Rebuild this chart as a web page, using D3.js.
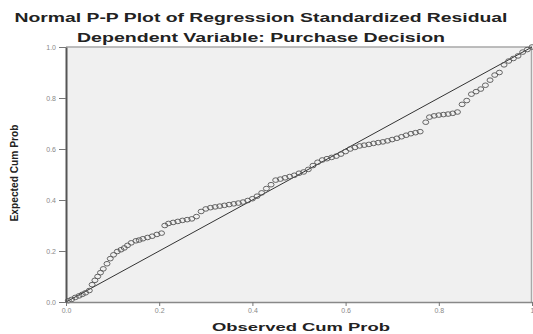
<!DOCTYPE html>
<html>
<head>
<meta charset="utf-8">
<script src="https://cdn.jsdelivr.net/npm/d3@7"></script>
<style>
  body { margin: 0; background: #fff; }
  svg { display: block; }
</style>
</head>
<body>
<div id="chart"></div>
<script>
// Observed cumulative probability (x) and expected cumulative probability (y)
const observed = [
  0.005, 0.012, 0.020, 0.028, 0.035, 0.042, 0.050, 0.056, 0.062, 0.068,
  0.074, 0.080, 0.088, 0.095, 0.102, 0.110, 0.118, 0.125, 0.132, 0.140,
  0.150, 0.157, 0.165, 0.175, 0.185, 0.195, 0.205, 0.212, 0.220, 0.230,
  0.240, 0.250, 0.260, 0.270, 0.280, 0.290, 0.300, 0.310, 0.320, 0.330,
  0.340, 0.350, 0.360, 0.370, 0.380, 0.390, 0.400, 0.410, 0.420, 0.430,
  0.440, 0.450, 0.460, 0.470, 0.480, 0.490, 0.500, 0.510, 0.520, 0.530,
  0.540, 0.550, 0.560, 0.570, 0.580, 0.590, 0.600, 0.610, 0.620, 0.630,
  0.640, 0.650, 0.660, 0.670, 0.680, 0.690, 0.700, 0.710, 0.720, 0.730,
  0.740, 0.750, 0.760, 0.772, 0.780, 0.790, 0.800, 0.810, 0.820, 0.830,
  0.840, 0.850, 0.860, 0.870, 0.880, 0.890, 0.900, 0.910, 0.920, 0.930,
  0.940, 0.950, 0.960, 0.970, 0.980, 0.990, 1.000
];
const expected = [
  0.005, 0.010, 0.018, 0.024, 0.030, 0.036, 0.045, 0.068, 0.085, 0.100,
  0.115, 0.130, 0.150, 0.170, 0.185, 0.198, 0.205, 0.212, 0.222, 0.232,
  0.240, 0.243, 0.248, 0.253, 0.258, 0.265, 0.270, 0.300, 0.308, 0.312,
  0.316, 0.320, 0.323, 0.326, 0.335, 0.355, 0.365, 0.370, 0.373, 0.376,
  0.379, 0.382, 0.385, 0.388, 0.392, 0.398, 0.405, 0.415, 0.428, 0.445,
  0.460, 0.478, 0.482, 0.487, 0.492, 0.497, 0.505, 0.510, 0.520, 0.535,
  0.548, 0.557, 0.562, 0.567, 0.572, 0.580, 0.590, 0.600, 0.606, 0.612,
  0.615, 0.618, 0.622, 0.625, 0.628, 0.632, 0.637, 0.642, 0.648, 0.654,
  0.660, 0.664, 0.668, 0.705, 0.725, 0.730, 0.733, 0.735, 0.737, 0.740,
  0.745, 0.775, 0.790, 0.815, 0.825, 0.835, 0.850, 0.870, 0.890, 0.900,
  0.930, 0.945, 0.955, 0.965, 0.980, 0.990, 1.000
];
const xTickValues = [0, 0.2, 0.4, 0.6, 0.8, 1];
const xTickLabels = ['0.0', '0.2', '0.4', '0.6', '0.8', '1'];
const yTickValues = [0, 0.2, 0.4, 0.6, 0.8, 1];
const yTickLabels = ['0.0', '0.2', '0.4', '0.6', '0.8', '1.0'];

const width = 533;
const height = 334;
const margin = { top: 47, right: 1, bottom: 32, left: 66 };

const points = observed.map((d, i) => ({ x: d, y: expected[i] }));

const svg = d3.select('#chart')
  .append('svg')
  .attr('width', width)
  .attr('height', height)
  .style('font-family', '"Liberation Sans", Arial, sans-serif');

const x = d3.scaleLinear()
  .domain([0, 1])
  .range([margin.left, width - margin.right]);

const y = d3.scaleLinear()
  .domain([0, 1])
  .range([height - margin.bottom, margin.top]);

// Plot background
svg.append('rect')
  .attr('x', x(0))
  .attr('y', y(1))
  .attr('width', x(1) - x(0))
  .attr('height', y(0) - y(1))
  .attr('fill', '#f0f0f0');

// Top and right frame
svg.append('path')
  .attr('d', `M${x(0)},${y(1)}H${x(1) - 0.5}V${y(0)}`)
  .attr('fill', 'none')
  .attr('stroke', '#a8a8a8')
  .attr('stroke-width', 1.5);

// Reference diagonal
svg.append('line')
  .attr('x1', x(0))
  .attr('y1', y(0))
  .attr('x2', x(1))
  .attr('y2', y(1))
  .attr('stroke', '#333')
  .attr('stroke-width', 1);

// Points (slightly wide open circles, as in the source)
svg.append('g')
  .selectAll('ellipse')
  .data(points)
  .join('ellipse')
  .attr('cx', d => x(d.x))
  .attr('cy', d => y(d.y))
  .attr('rx', 3)
  .attr('ry', 2.3)
  .attr('fill', 'none')
  .attr('stroke', '#555')
  .attr('stroke-width', 0.9);

// X axis
const xAxis = svg.append('g')
  .attr('transform', `translate(0,${y(0)})`)
  .call(d3.axisBottom(x)
    .tickValues(xTickValues)
    .tickFormat((d, i) => xTickLabels[i])
    .tickSize(4)
    .tickSizeOuter(0));
xAxis.select('.domain').attr('stroke', '#888').attr('stroke-width', 1.5);
xAxis.selectAll('.tick line').attr('stroke', '#777');
xAxis.selectAll('.tick text')
  .attr('fill', '#888')
  .attr('font-size', 7)
  .attr('dy', '0.6em');

// Y axis
const yAxis = svg.append('g')
  .attr('transform', `translate(${x(0)},0)`)
  .call(d3.axisLeft(y)
    .tickValues(yTickValues)
    .tickFormat((d, i) => yTickLabels[i])
    .tickSize(7)
    .tickSizeOuter(0));
yAxis.select('.domain').attr('stroke', '#555').attr('stroke-width', 2);
yAxis.selectAll('.tick line').attr('stroke', '#777');
yAxis.selectAll('.tick text')
  .attr('fill', '#888')
  .attr('font-size', 7)
  .attr('x', -10);

// Titles
svg.append('text')
  .attr('x', 261)
  .attr('y', 22)
  .attr('text-anchor', 'middle')
  .attr('font-size', 12)
  .attr('font-weight', 'bold')
  .attr('fill', '#222')
  .attr('textLength', 493)
  .attr('lengthAdjust', 'spacingAndGlyphs')
  .text('Normal P-P Plot of Regression Standardized Residual');

svg.append('text')
  .attr('x', 261)
  .attr('y', 42)
  .attr('text-anchor', 'middle')
  .attr('font-size', 12)
  .attr('font-weight', 'bold')
  .attr('fill', '#222')
  .attr('textLength', 368)
  .attr('lengthAdjust', 'spacingAndGlyphs')
  .text('Dependent Variable: Purchase Decision');

// Axis labels
svg.append('text')
  .attr('x', 301)
  .attr('y', 331)
  .attr('text-anchor', 'middle')
  .attr('font-size', 11)
  .attr('font-weight', 'bold')
  .attr('fill', '#222')
  .attr('textLength', 178)
  .attr('lengthAdjust', 'spacingAndGlyphs')
  .text('Observed Cum Prob');

svg.append('text')
  .attr('transform', 'translate(18,173) rotate(-90)')
  .attr('text-anchor', 'middle')
  .attr('font-size', 11)
  .attr('font-weight', 'bold')
  .attr('fill', '#222')
  .attr('textLength', 97)
  .attr('lengthAdjust', 'spacingAndGlyphs')
  .text('Expected Cum Prob');
</script>
</body>
</html>
